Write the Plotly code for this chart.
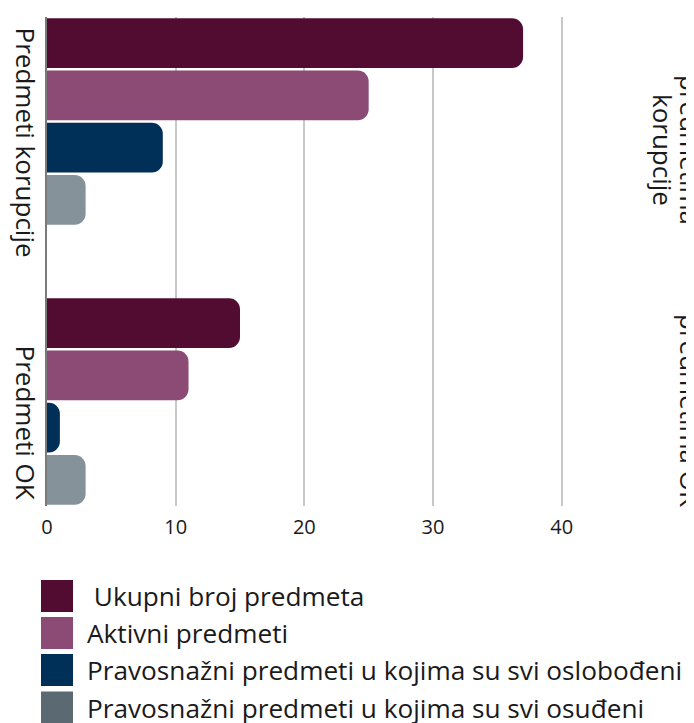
import plotly.graph_objects as go

# ---- data ----
categories = ["Predmeti korupcije", "Predmeti OK"]
series_names = [
    "\u00a0Ukupni broj predmeta",
    "Aktivni predmeti",
    "Pravosnažni predmeti u kojima su svi oslobođeni",
    "Pravosnažni predmeti u kojima su svi osuđeni",
]
ukupni = [37, 15]
aktivni = [25, 11]
oslobodjeni = [9, 1]
osudjeni = [3, 3]
x_ticks = [0, 10, 20, 30, 40]
right_labels = [["predmetima", "korupcije"], ["predmetima OK"]]

series_values = [ukupni, aktivni, oslobodjeni, osudjeni]
bar_colors = ["#530c31", "#8b4b75", "#002f57", "#86929a"]
legend_colors = ["#530c31", "#8b4b75", "#002f57", "#5b6a72"]

# ---- geometry (page body has an 8px margin, so compensate) ----
OFF = 8
W, H = 694, 723
L = 47 - OFF
T = 17 - OFF
PLOT_RIGHT = 626 - OFF
PLOT_BOTTOM = 506 - OFF
R = W - PLOT_RIGHT
B = H - PLOT_BOTTOM
PW = W - L - R
PH = H - T - B


def px_x(px):
    return (px - OFF - L) / PW


def px_y(py):
    return (PLOT_BOTTOM - (py - OFF)) / PH


FONT = "Open Sans, Noto Sans, sans-serif"
TXT = "#1a1a1a"

fig = go.Figure()
for name, vals, col in zip(series_names, series_values, bar_colors):
    fig.add_trace(go.Bar(
        name=name.strip(), y=categories, x=vals, orientation="h",
        marker=dict(color=col, line=dict(width=0)),
        showlegend=False,
    ))

annotations = []
shapes = []

# right-side (clipped) labels
right_x = [690, 663]
right_y = [150, 410]
for cy, lines in zip(right_y, right_labels):
    for j, line in enumerate(lines):
        annotations.append(dict(
            text=line, textangle=90, showarrow=False,
            xref="paper", yref="paper", x=px_x(right_x[j]), y=px_y(cy),
            xanchor="center", yanchor="middle",
            font=dict(family=FONT, size=26, color=TXT),
        ))

# legend drawn manually (large square swatches)
row_centers = [596, 633, 670, 707.5]
for name, col, cy in zip(series_names, legend_colors, row_centers):
    shapes.append(dict(
        type="rect", xref="paper", yref="paper",
        x0=px_x(41), x1=px_x(73), y0=px_y(cy + 16), y1=px_y(cy - 16),
        fillcolor=col, line=dict(width=0), layer="above",
    ))
    annotations.append(dict(
        text=name, showarrow=False, xref="paper", yref="paper",
        x=px_x(85), y=px_y(cy), xanchor="left", yanchor="middle",
        font=dict(family=FONT, size=26.2, color=TXT),
    ))

fig.update_layout(
    width=W, height=H,
    margin=dict(l=L, r=R, t=T, b=B, pad=0, autoexpand=False),
    paper_bgcolor="white", plot_bgcolor="white",
    barmode="group", bargap=0.2536, bargroupgap=0.05,
    barcornerradius=11,
    showlegend=False,
    font=dict(family=FONT, color=TXT),
    annotations=annotations, shapes=shapes,
    xaxis=dict(
        range=[0, 45], tickvals=x_ticks, ticktext=[str(v) for v in x_ticks],
        showgrid=True, gridcolor="#c8c8c8", gridwidth=2,
        zeroline=False, showline=False, ticks="", automargin=False,
        ticklabelstandoff=7,
        tickfont=dict(family=FONT, size=20, color=TXT),
    ),
    yaxis=dict(
        type="category", categoryorder="array", categoryarray=categories,
        range=[1.373, -0.373], automargin=False,
        showgrid=False, zeroline=False,
        showline=True, linecolor="#7a7a7a", linewidth=2,
        ticks="", tickangle=90, ticklabelshift=-25, ticklabelstandoff=-2,
        tickfont=dict(family=FONT, size=26, color=TXT),
    ),
)

fig.write_html("out.html")
